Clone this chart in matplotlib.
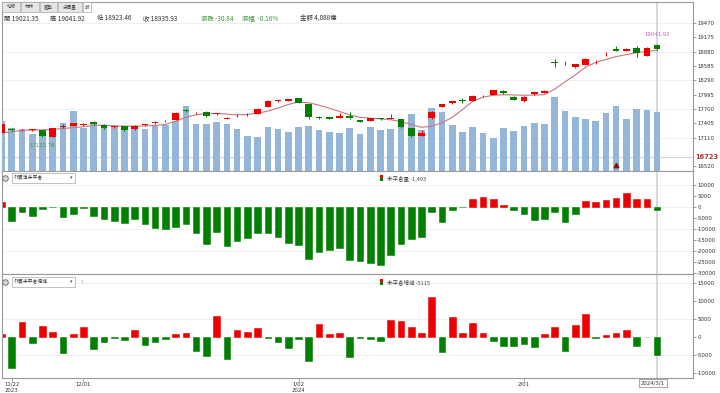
import matplotlib
matplotlib.use('Agg')
import matplotlib.pyplot as plt
from matplotlib.patches import Rectangle
from matplotlib.lines import Line2D

W, H = 720, 393
CJK = ['Noto Sans CJK TC', 'DejaVu Sans']
plt.rcParams['font.family'] = CJK

# ---------------- data ----------------
bar_index = list(range(-1, 64))
opens = [17202, 17297, 17265, 17270, 17265, 17135, 17335, 17360, 17375, 17430,
         17383, 17335, 17346, 17285, 17375, 17405, 17445, 17476, 17682, 17615,
         17647, 17600, 17505, 17550, 17575, 17600, 17750, 17865, 17866, 17922,
         17805, 17544, 17530, 17517, 17558, 17476, 17455, 17505, 17505, 17490,
         17305, 17147, 17510, 17750, 17818, 17880, 17873, 17965, 17990, 18072,
         17955, 17866, 18004, 18037, 18660, 18632, 18559, 18613, 18662, 18828,
         18942, 18901, 18963, 18798, 19021.35]
highs = [17400, 17310, 17300, 17295, 17280, 17320, 17390, 17420, 17410, 17460,
         17395, 17360, 17355, 17380, 17400, 17450, 17470, 17630, 17700, 17650,
         17665, 17625, 17545, 17590, 17610, 17715, 17880, 17885, 17915, 17935,
         17810, 17555, 17540, 17620, 17640, 17485, 17515, 17520, 17590, 17500,
         17310, 17270, 17660, 17805, 17875, 17930, 17985, 17995, 18100, 18090,
         17965, 17965, 18055, 18090, 18720, 18690, 18635, 18745, 18700, 18870,
         18990, 18950, 19000, 18975, 19041.92]
lows = [17190, 17255, 17245, 17255, 17123.76, 17128, 17320, 17350, 17350, 17380,
        17300, 17320, 17250, 17275, 17360, 17395, 17430, 17470, 17640, 17595,
        17530, 17585, 17490, 17540, 17565, 17595, 17745, 17850, 17860, 17820,
        17500, 17500, 17490, 17510, 17500, 17430, 17450, 17480, 17495, 17315,
        17130, 17140, 17505, 17740, 17810, 17820, 17865, 17950, 17985, 18020,
        17880, 17840, 17995, 18030, 18560, 18610, 18550, 18605, 18620, 18800,
        18885, 18890, 18780, 18790, 18923.46]
closes = [17387, 17270, 17275, 17278, 17150, 17311, 17350, 17408, 17385, 17395,
          17318, 17345, 17262, 17353, 17385, 17440, 17455, 17620, 17660, 17625,
          17558, 17610, 17515, 17560, 17585, 17708, 17873, 17875, 17908, 17831,
          17544, 17510, 17500, 17558, 17510, 17441, 17510, 17495, 17515, 17325,
          17140, 17202, 17647, 17798, 17866, 17870, 17976, 17972, 18092, 18025,
          17887, 17955, 18045, 18078, 18648, 18625, 18627, 18736, 18672, 18838,
          18894, 18935, 18847, 18949, 18935.93]
ma5 = [17205, 17235, 17262, 17270, 17272, 17282, 17300, 17318, 17338, 17365,
       17370, 17355, 17350, 17350, 17355, 17362, 17385, 17450, 17530, 17585,
       17605, 17610, 17595, 17580, 17590, 17615, 17660, 17720, 17795, 17845,
       17830, 17780, 17720, 17650, 17580, 17530, 17515, 17500, 17480, 17440,
       17385, 17325, 17350, 17420, 17530, 17690, 17860, 17945, 17985, 17995,
       17990, 17985, 17990, 17995, 18110, 18260, 18400, 18560, 18660, 18720,
       18780, 18820, 18860, 18885, 18905]
volume = [3465, 2959, 2890, 2564, 2841, 2959, 3306, 4179, 2959, 3306,
          2959, 3028, 2841, 2959, 2911, 3119, 3188, 3486, 4505, 3257,
          3257, 3396, 3257, 2911, 2426, 2335, 3028, 2931, 2723, 3028,
          3119, 2841, 2723, 2613, 3001, 2564, 3070, 2841, 2931, 3070,
          3929, 2841, 4387, 4109, 3167, 2723, 3049, 2613, 2308, 2980,
          2793, 3119, 3347, 3236, 5149, 4158, 3742, 3583, 3486, 4040,
          4505, 3624, 4317, 4248, 4088]
net_oi = [2100, -6360, -2420, -4090, -1210, -300, -4545, -3480, -600, -4240,
          -5750, -6360, -7270, -5600, -7880, -9545, -10300, -9090, -8030, -12120,
          -17100, -11360, -17730, -15450, -14390, -11820, -12120, -13640, -16670, -17420,
          -23900, -20450, -19700, -18640, -24240, -24500, -25450, -26500, -21950, -17100,
          -14700, -13640, -2550, -6800, -1500, -300, 3360, 4270, 3360, 900,
          -1500, -3480, -6060, -5450, -2420, -6800, -3480, 2730, 2270, 3030,
          4090, 6060, 3640, 3640, -1493]
oi_change = [650, -8780, 4000, -1850, 2960, 1200, -4350, 900, 2780, -3500,
             -1570, -280, -930, 1760, -2310, -1570, -650, 740, 1100, -3890,
             -5280, 5740, -6200, 1760, 1390, 2310, -280, -1390, -3060, -740,
             -6670, 3520, 740, 930, -5560, -200, -740, -1110, 4630, 4440,
             2690, 930, 11110, -4170, 5370, 930, 3890, 1110, -1110, -2590,
             -2500, -2040, -2780, 650, 2780, -4070, 3150, 6200, -200, 560,
             1110, 1850, -2500, 0, -5115]
price_ticks = [19470, 19175, 18880, 18585, 18290, 17995, 17700, 17405, 17110, 16520]
price_grid = [19470, 18880, 18290, 17700, 17110]
oi_ticks = [10000, 5000, 0, -5000, -10000, -15000, -20000, -25000, -30000]
oi_grid = [10000, 0, -10000, -20000]
chg_ticks = [15000, 10000, 5000, 0, -5000, -10000]
chg_grid = [15000, 5000, -5000]
date_pos = [0, 7, 28, 50]
date_labels = ['11/22\n2023', '12/01', '1/02\n2024', '2/01']
ref_price = 16723
last_date = '2024/3/1'
high_text = '19041.92'
low_text = '17123.76'
header_parts = [('開 19021.35', 4, '#333333'), ('高 19041.92', 50, '#333333'),
                ('低 18923.46', 97, '#333333'), ('收 18935.93', 143, '#333333'),
                ('漲跌 -30.84', 201, '#3a9a3a'), ('漲幅  -0.16%', 242, '#3a9a3a'),
                ('金額 4,088億', 300, '#333333')]
tabs = [('均線', 2, 20), ('布林', 21, 39), ('趨勢', 40, 57), ('分價量', 58, 82), ('設', 83, 91)]

RED = '#ee0000'
GREEN = '#007f00'
VOLC = '#94b6da'
SPINE = '#9a9a9a'
TICKFS = 3.9
XL = (-0.95, 66.5)
last_i = bar_index[-1]


def rect(top, bottom, left=2, right=693):
    return [left / W, 1 - bottom / H, (right - left) / W, (bottom - top) / H]


def fx(px):
    return px / W


def fy(py):
    return 1 - py / H


def style_axis(ax, ticks, lim):
    ax.set_xlim(XL)
    ax.set_ylim(lim)
    ax.yaxis.tick_right()
    ax.set_yticks(ticks)
    ax.set_yticklabels([str(t) for t in ticks])
    ax.tick_params(axis='y', length=2, width=0.5, color='#777777', labelsize=TICKFS,
                   labelcolor='#333333', pad=1)
    for lab in ax.get_yticklabels():
        lab.set_fontfamily(['DejaVu Sans'])
    for s in ax.spines.values():
        s.set_color(SPINE)
        s.set_linewidth(0.8)


fig = plt.figure(figsize=(7.2, 3.93), dpi=100)

# ---------------- top panel ----------------
ax_g = fig.add_axes(rect(2, 171))
style_axis(ax_g, price_ticks, (16427, 19902))
ax_g.set_xticks([])
for g in price_grid:
    ax_g.axhline(g, color='#eeeeee', lw=0.6, zorder=0)
ax_g.axhline(ref_price, color='#e2cdd6', lw=0.8, zorder=0)
ax_g.axvline(last_i, color='#d0d5e2', lw=1.3, zorder=0)

ax_v = fig.add_axes(rect(2, 171), facecolor='none')
ax_v.bar(bar_index, volume, width=0.65, color=VOLC, zorder=2)
ax_v.set_xlim(XL)
ax_v.set_ylim(0, 11712)
ax_v.axis('off')

ax_c = fig.add_axes(rect(2, 171), facecolor='none')
ax_c.set_xlim(XL)
ax_c.set_ylim(16427, 19902)
ax_c.axis('off')
ax_c.plot(bar_index, ma5, color='#c87878', lw=0.8, zorder=3)
for i, o, h, l, c in zip(bar_index, opens, highs, lows, closes):
    col = RED if c >= o else GREEN
    ax_c.vlines(i, l, h, color=col, lw=0.7, zorder=4)
    lo, hi = min(o, c), max(o, c)
    ax_c.bar(i, max(hi - lo, 12), bottom=lo, width=0.65, color=col, zorder=5)
lo_i = bar_index[lows.index(min(lows))]
hi_i = bar_index[highs.index(max(highs))]
ax_c.annotate(low_text, (lo_i, min(lows)), xytext=(0, -4), textcoords='offset points',
              ha='center', va='top', fontsize=3.9, color='#3f9f3f', family=['DejaVu Sans'])
ax_c.annotate(high_text, (hi_i, max(highs)), xytext=(0, 5), textcoords='offset points',
              ha='center', va='bottom', fontsize=3.9, color='#c060c0', family=['DejaVu Sans'])
ax_c.plot([59], [0.035], marker='^', ms=3.2, color='#8b1010',
          transform=ax_c.get_xaxis_transform(), zorder=6)

# reference price label
fig.text(fx(695.5), fy(157.5), str(ref_price), fontsize=4.8, color='#a03c32',
         fontweight='bold', ha='left', va='center', family=['DejaVu Sans'])

# tabs and header
for name, x0, x1 in tabs:
    fc = 'white' if name == '設' else '#e6e6e6'
    fig.add_artist(Rectangle((fx(x0), fy(12)), (x1 - x0) / W, 10 / H, transform=fig.transFigure,
                             fc=fc, ec='#aaaaaa', lw=0.5))
    fig.text(fx((x0 + x1) / 2), fy(7), name, fontsize=3.3, ha='center', va='center',
             color='#444444')
for txt, x0, col in header_parts:
    fig.text(fx(x0), fy(18.5), txt, fontsize=4.6, ha='left', va='center', color=col)

# ---------------- middle panel ----------------
ax_m = fig.add_axes(rect(171, 274))
style_axis(ax_m, oi_ticks, (-30590, 16230))
ax_m.set_xticks([])
for g in oi_grid:
    ax_m.axhline(g, color='#eeeeee', lw=0.6, zorder=0)
ax_m.axvline(last_i, color='#d0d5e2', lw=1.3, zorder=0)
cols_m = [RED if v > 0 else (GREEN if v < 0 else '#999999') for v in net_oi]
ax_m.bar(bar_index, net_oi, width=0.65, color=cols_m, edgecolor=cols_m, lw=0.4, zorder=2)

# ---------------- bottom panel ----------------
ax_b = fig.add_axes(rect(274, 377.5))
style_axis(ax_b, chg_ticks, (-11280, 17420))
for g in chg_grid:
    ax_b.axhline(g, color='#eeeeee', lw=0.6, zorder=0)
ax_b.axvline(last_i, color='#d0d5e2', lw=1.3, zorder=0)
cols_b = [RED if v > 0 else (GREEN if v < 0 else '#bbbbbb') for v in oi_change]
ax_b.bar(bar_index, oi_change, width=0.65, color=cols_b, edgecolor=cols_b, lw=0.4, zorder=2)
ax_b.set_xticks(date_pos)
ax_b.set_xticklabels(date_labels)
ax_b.tick_params(axis='x', length=2, width=0.5, color='#777777', labelsize=TICKFS,
                 labelcolor='#333333', pad=0.8)
for lab in ax_b.get_xticklabels():
    lab.set_fontfamily(['DejaVu Sans'])
    lab.set_linespacing(1.5)
    lab.set_verticalalignment('top')

fig.text(fx(653), fy(383), last_date, fontsize=3.9, ha='center', va='center',
         color='#333333', family=['DejaVu Sans'],
         bbox=dict(boxstyle='square,pad=0.35', fc='white', ec='#999999', lw=0.6))

# ---------------- panel legends ----------------
def panel_header(ytop, title, legend, extra=None):
    fig.add_artist(Line2D([fx(5)], [fy(ytop + 5)], marker='o', ms=4, mfc='#d8d8d8',
                          mec='#777777', mew=0.7, transform=fig.transFigure))
    fig.add_artist(Rectangle((fx(12), fy(ytop + 10)), 63 / W, 10 / H, transform=fig.transFigure,
                             fc='white', ec='#aaaaaa', lw=0.5))
    fig.text(fx(14), fy(ytop + 5), title, fontsize=3.5, ha='left', va='center', color='#333333')
    fig.text(fx(71), fy(ytop + 5), '▾', fontsize=3.5, ha='center', va='center', color='#555555',
             family=['DejaVu Sans'])
    if extra:
        fig.text(fx(82), fy(ytop + 5), extra, fontsize=3.5, ha='center', va='center',
                 color='#999999')
    fig.add_artist(Rectangle((fx(380), fy(ytop + 5)), 3 / W, 3 / H, transform=fig.transFigure,
                             fc=RED, ec='none'))
    fig.add_artist(Rectangle((fx(380), fy(ytop + 8)), 3 / W, 3 / H, transform=fig.transFigure,
                             fc=GREEN, ec='none'))
    fig.text(fx(387), fy(ytop + 5.5), legend, fontsize=4.0, ha='left', va='center', color='#444444')


panel_header(173, '外資淨未平倉', '未平倉量 -1,493')
panel_header(277, '外資未平倉增減', '未平倉增減 -5115', extra='?')

fig.savefig('out.png', dpi=100, facecolor='white')
